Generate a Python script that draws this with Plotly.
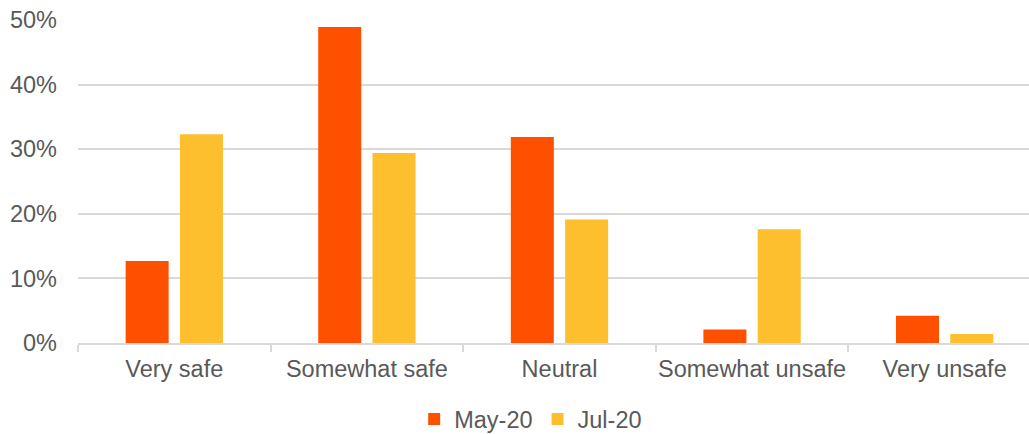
import plotly.graph_objects as go

categories = ["Very safe", "Somewhat safe", "Neutral", "Somewhat unsafe", "Very unsafe"]
may_20 = [0.127, 0.489, 0.319, 0.021, 0.042]
jul_20 = [0.323, 0.294, 0.191, 0.176, 0.014]

font_family = "Liberation Sans, Arial, sans-serif"
text_grey = "#595959"
grid_grey = "#D9D9D9"

fig = go.Figure()
fig.add_trace(go.Bar(name="May-20", x=categories, y=may_20,
                     marker=dict(color="#FF5000", line=dict(width=0))))
fig.add_trace(go.Bar(name="Jul-20", x=categories, y=jul_20,
                     marker=dict(color="#FDBF2D", line=dict(width=0))))

fig.update_layout(
    width=1029, height=434,
    margin=dict(l=78, r=0, t=20, b=91, autoexpand=False),
    paper_bgcolor="white", plot_bgcolor="white",
    barmode="group", bargap=0.436, bargroupgap=0.208,
    font=dict(family=font_family, size=24, color=text_grey),
    showlegend=True,
    legend=dict(orientation="h", x=0.476, xanchor="center",
                yref="container", y=0.034, yanchor="middle",
                font=dict(size=23.5, color=text_grey), traceorder="normal",
                itemwidth=30, bgcolor="rgba(0,0,0,0)"),
    xaxis=dict(range=[-0.5, 4.438], showgrid=False, showline=True, linecolor=grid_grey,
               linewidth=1.5, ticks="outside", tickson="boundaries", ticklen=7,
               tickcolor=grid_grey, tickwidth=1.5, automargin=False, tickangle=0,
               ticklabelstandoff=4, tickfont=dict(size=23.5, color=text_grey)),
    yaxis=dict(range=[0, 0.5], dtick=0.1, tickformat=".0%", showgrid=True,
               gridcolor=grid_grey, gridwidth=1.5, zeroline=False, showline=False,
               ticks="", ticklabelstandoff=20, automargin=False,
               tickfont=dict(size=23.5, color=text_grey)),
)

fig.write_html("out.html")
